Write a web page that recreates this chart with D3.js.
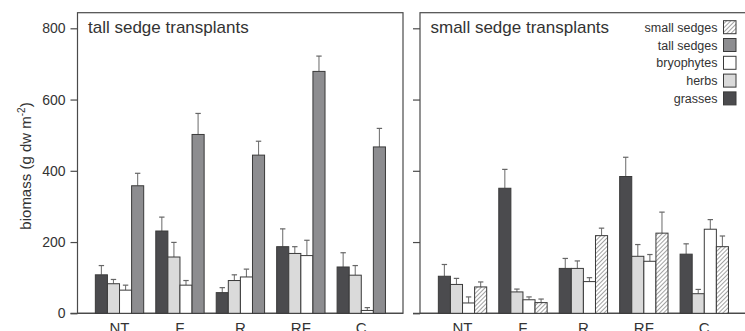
<!DOCTYPE html>
<html>
<head>
<meta charset="utf-8">
<script src="https://cdn.jsdelivr.net/npm/d3@7"></script>
<style>
    body { margin: 0; background: #fff; }
    svg { display: block; font-family: "Liberation Sans", Arial, sans-serif; }
</style>
</head>
<body>
<svg width="745" height="331"></svg>
<script>
    // DATA ==============================================
    const categories = ['NT', 'F', 'R', 'RF', 'C'];
    const yTicks = [0, 200, 400, 600, 800];

    // tall sedge transplants (mean, standard error)
    const tallGrasses = [108, 231, 58, 187, 130];
    const tallGrassesSe = [26, 39, 14, 50, 40];
    const tallHerbs = [83, 158, 92, 168, 107];
    const tallHerbsSe = [12, 41, 16, 19, 27];
    const tallBryophytes = [65, 79, 102, 162, 8];
    const tallBryophytesSe = [14, 13, 22, 43, 8];
    const tallTallSedges = [358, 502, 444, 679, 467];
    const tallTallSedgesSe = [35, 59, 39, 43, 52];

    // small sedge transplants
    const smallGrasses = [104, 351, 126, 384, 166];
    const smallGrassesSe = [33, 53, 28, 54, 29];
    const smallHerbs = [81, 60, 126, 160, 55];
    const smallHerbsSe = [17, 8, 21, 33, 12];
    const smallBryophytes = [29, 38, 89, 146, 236];
    const smallBryophytesSe = [17, 8, 11, 19, 27];
    const smallSmallSedges = [74, 30, 218, 225, 187];
    const smallSmallSedgesSe = [14, 10, 21, 59, 30];

    const legendItems = ['small sedges', 'tall sedges', 'bryophytes', 'herbs', 'grasses'];

    // STYLES ============================================
    const fills = {
        'grasses': '#4b4b4e',
        'herbs': '#dadada',
        'bryophytes': '#ffffff',
        'tall sedges': '#8d8d90',
        'small sedges': 'url(#hatch)'
    };
    const TEXT = '#333',
        AXIS = '#4a4a4a',
        OUTLINE = '#3a3a3a';

    const svg = d3.select('svg');

    // hatch pattern for small sedges
    const pat = svg.append('defs').append('pattern')
        .attr('id', 'hatch')
        .attr('patternUnits', 'userSpaceOnUse')
        .attr('width', 3).attr('height', 3)
        .attr('patternTransform', 'rotate(45)');
    pat.append('rect').attr('width', 3).attr('height', 3).attr('fill', '#fff');
    pat.append('line').attr('x1', 0).attr('y1', 0).attr('x2', 0).attr('y2', 3)
        .attr('stroke', '#555').attr('stroke-width', 1.1);

    const y = d3.scaleLinear().domain([0, 800]).range([313.3, 28.3]);
    const frameTop = 12.7;

    const panels = [
        {
            title: 'tall sedge transplants', left: 77.5, right: 403, range: [89.3, 391.5], labels: true,
            series: [
                { name: 'grasses', vals: tallGrasses, se: tallGrassesSe },
                { name: 'herbs', vals: tallHerbs, se: tallHerbsSe },
                { name: 'bryophytes', vals: tallBryophytes, se: tallBryophytesSe },
                { name: 'tall sedges', vals: tallTallSedges, se: tallTallSedgesSe }
            ]
        },
        {
            title: 'small sedge transplants', left: 420, right: 760, range: [432.3, 734.5], labels: false,
            series: [
                { name: 'grasses', vals: smallGrasses, se: smallGrassesSe },
                { name: 'herbs', vals: smallHerbs, se: smallHerbsSe },
                { name: 'bryophytes', vals: smallBryophytes, se: smallBryophytesSe },
                { name: 'small sedges', vals: smallSmallSedges, se: smallSmallSedgesSe }
            ]
        }
    ];

    panels.forEach(p => {
        const x0 = d3.scaleBand().domain(categories).range(p.range)
            .paddingInner(0.2).paddingOuter(0.1);
        const x1 = d3.scaleBand().domain(p.series.map(s => s.name)).range([0, x0.bandwidth()]);

        const g = svg.append('g');

        // frame
        g.append('rect')
            .attr('x', p.left).attr('y', frameTop)
            .attr('width', p.right - p.left).attr('height', y(0) - frameTop)
            .attr('fill', 'none').attr('stroke', AXIS).attr('stroke-width', 1.2);

        // y axis ticks
        const yAxis = d3.axisLeft(y).tickValues(yTicks).tickSize(7).tickPadding(5)
            .tickFormat(p.labels ? d3.format('d') : '');
        const ya = g.append('g').attr('transform', `translate(${p.left},0)`).call(yAxis);
        ya.select('.domain').remove();
        ya.selectAll('line').attr('stroke', AXIS).attr('stroke-width', 1.2);
        ya.selectAll('text').attr('fill', TEXT).style('font-size', '14px')
            .style('font-family', '"Liberation Sans", Arial, sans-serif');

        // baseline extends to tick length
        g.append('line')
            .attr('x1', p.left - 7).attr('x2', p.right)
            .attr('y1', y(0)).attr('y2', y(0))
            .attr('stroke', AXIS).attr('stroke-width', 1.2);

        // bars
        p.series.forEach(s => {
            const sg = g.append('g');
            const data = categories.map((c, i) => ({ c, v: s.vals[i], e: s.se[i] }));

            // error bars (upper only)
            sg.selectAll('.err').data(data).enter().append('line')
                .attr('x1', d => x0(d.c) + x1(s.name) + x1.bandwidth() / 2)
                .attr('x2', d => x0(d.c) + x1(s.name) + x1.bandwidth() / 2)
                .attr('y1', d => y(d.v)).attr('y2', d => y(d.v + d.e))
                .attr('stroke', '#777').attr('stroke-width', 1.1);
            sg.selectAll('.cap').data(data).enter().append('line')
                .attr('x1', d => x0(d.c) + x1(s.name) + x1.bandwidth() / 2 - 2.7)
                .attr('x2', d => x0(d.c) + x1(s.name) + x1.bandwidth() / 2 + 2.7)
                .attr('y1', d => y(d.v + d.e)).attr('y2', d => y(d.v + d.e))
                .attr('stroke', '#666').attr('stroke-width', 1.2);

            sg.selectAll('rect').data(data).enter().append('rect')
                .attr('x', d => x0(d.c) + x1(s.name))
                .attr('width', x1.bandwidth())
                .attr('y', d => y(d.v))
                .attr('height', d => y(0) - y(d.v))
                .attr('fill', fills[s.name])
                .attr('stroke', OUTLINE).attr('stroke-width', 1);
        });

        // category labels
        g.selectAll('.cat').data(categories).enter().append('text')
            .attr('x', d => x0(d) + x0.bandwidth() / 2)
            .attr('y', 333)
            .attr('text-anchor', 'middle')
            .attr('fill', TEXT)
            .style('font-size', '15px')
            .text(d => d);

        // title
        g.append('text')
            .attr('x', p.left + 10.5).attr('y', 33.3)
            .attr('fill', TEXT)
            .style('font-size', '17px')
            .text(p.title);
    });

    // y axis label
    const yl = svg.append('text')
        .attr('transform', 'translate(31,166) rotate(-90)')
        .attr('text-anchor', 'middle')
        .attr('fill', TEXT)
        .style('font-size', '15px');
    yl.append('tspan').text('biomass (g dw m');
    yl.append('tspan').attr('dy', -6).style('font-size', '10px').text('-2');
    yl.append('tspan').attr('dy', 6).text(')');

    // legend
    const legend = svg.append('g');
    legendItems.forEach((name, i) => {
        const ly = 20.7 + i * 17.8;
        legend.append('rect')
            .attr('x', 723.5).attr('y', ly)
            .attr('width', 12.5).attr('height', 13)
            .attr('fill', fills[name])
            .attr('stroke', OUTLINE).attr('stroke-width', 1);
        legend.append('text')
            .attr('x', 717.5).attr('y', ly + 11)
            .attr('text-anchor', 'end')
            .attr('fill', TEXT)
            .style('font-size', '12.5px')
            .text(name);
    });
</script>
</body>
</html>
